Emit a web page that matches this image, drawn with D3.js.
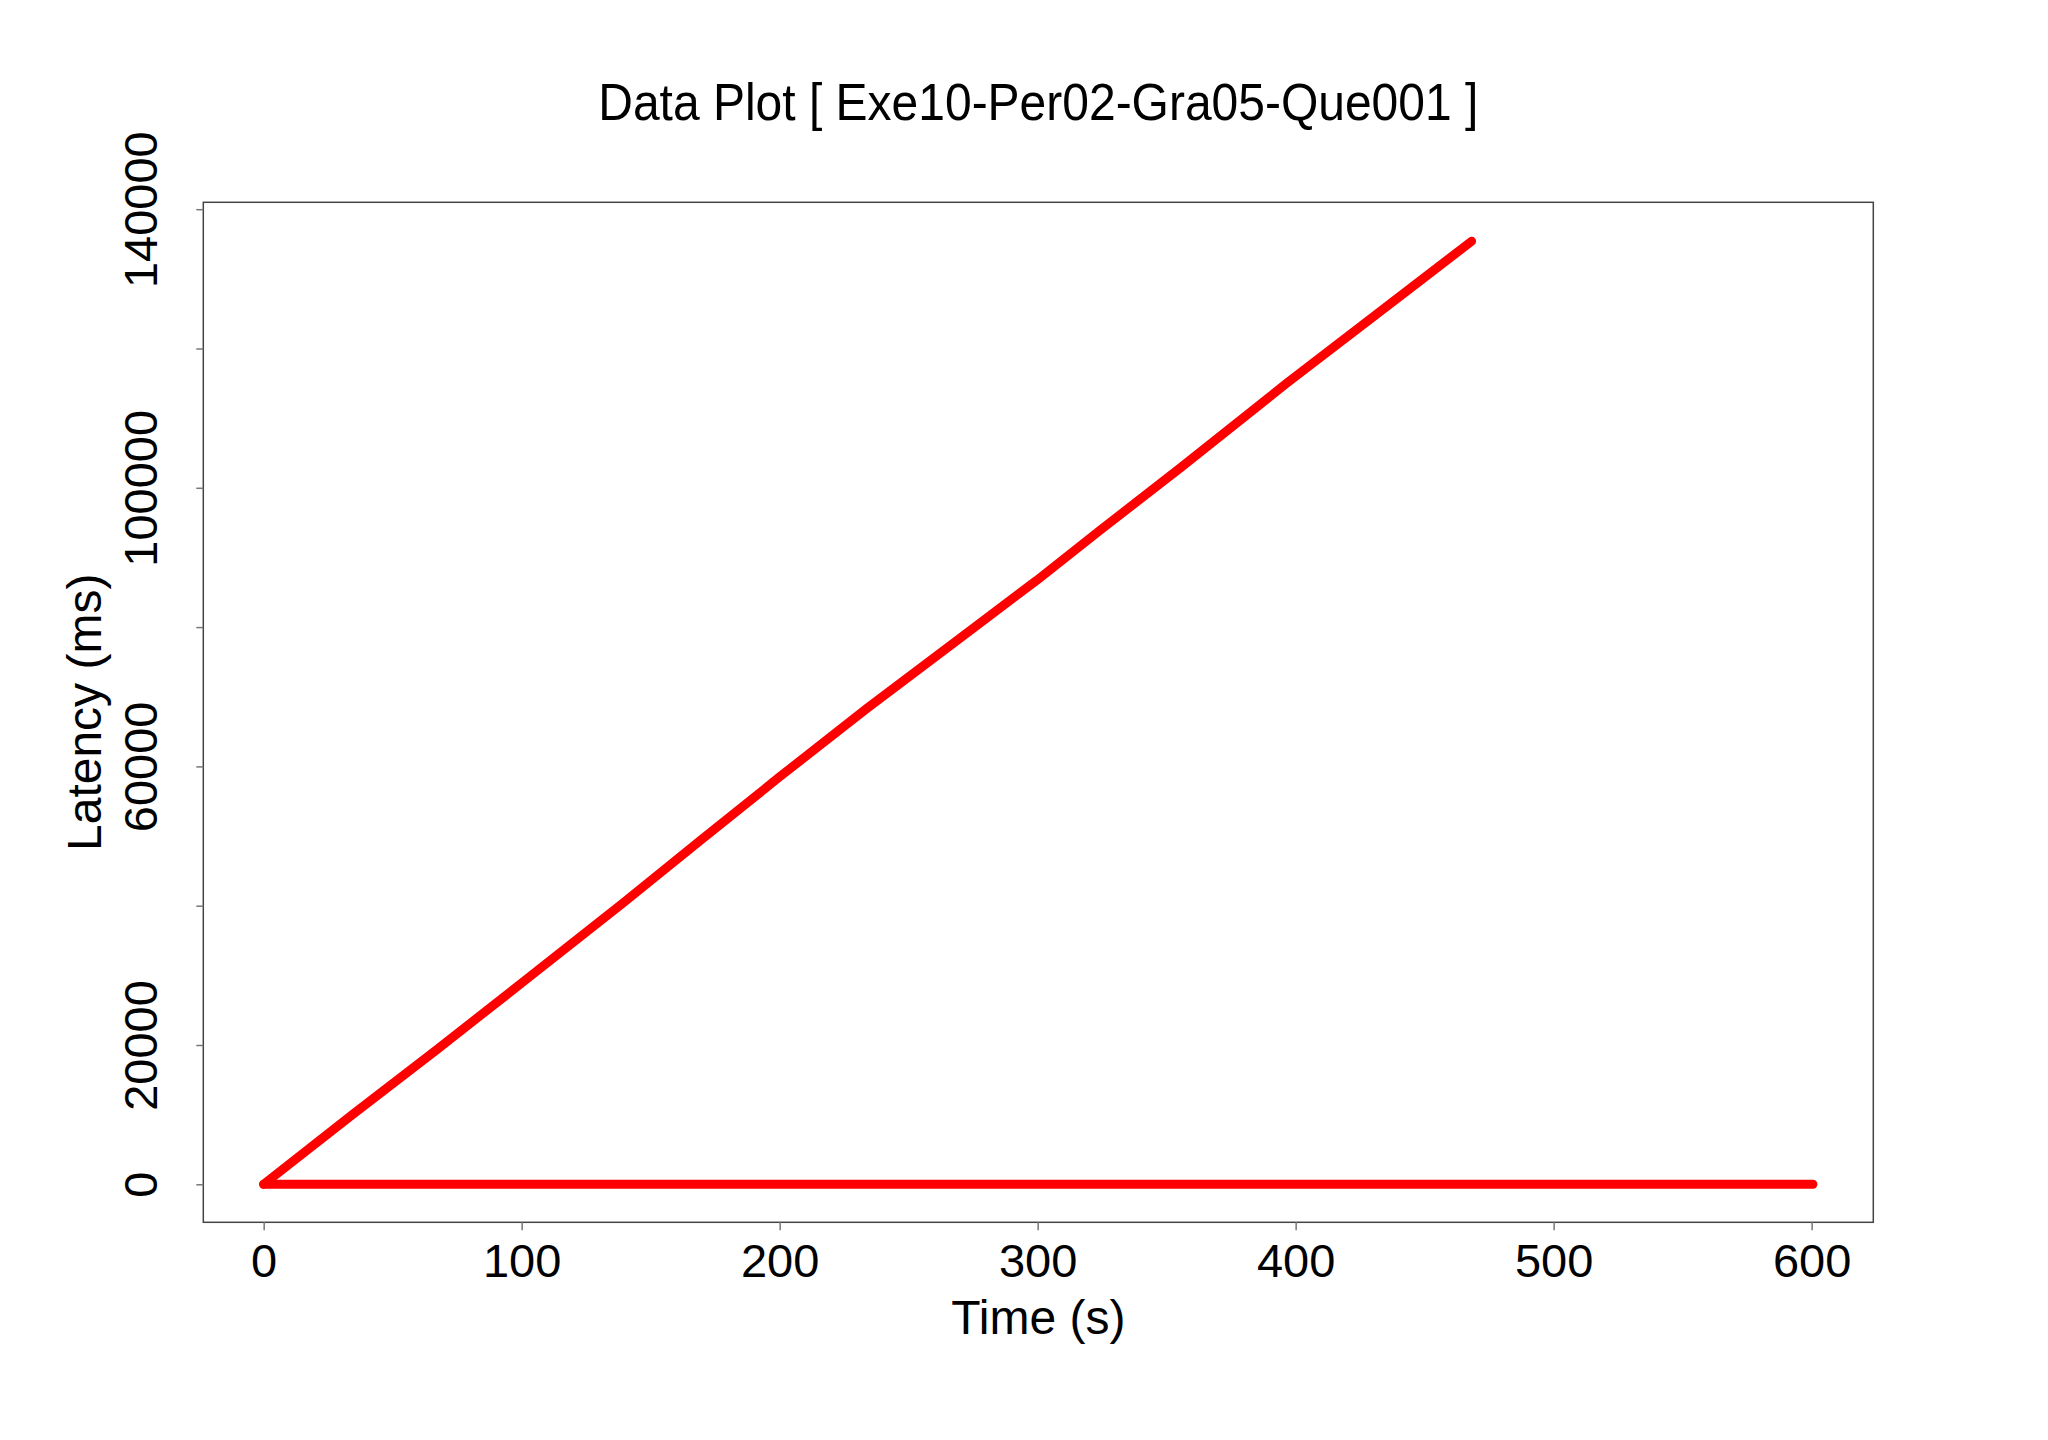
<!DOCTYPE html>
<html>
<head>
<meta charset="utf-8">
<script src="https://cdn.jsdelivr.net/npm/d3@7"></script>
<style>
  html, body { margin: 0; padding: 0; background: #fff; }
  svg { display: block; }
  text { font-family: "Liberation Sans", Arial, sans-serif; fill: #000; }
</style>
</head>
<body>
<svg id="chart" width="2048" height="1440"></svg>
<script>
// ---- data ----
const titleText = "Data Plot [ Exe10-Per02-Gra05-Que001 ]";
const xLabel = "Time (s)";
const yLabel = "Latency (ms)";
const riseTime = [0, 34.4, 67, 100, 139.3, 169, 200, 233.7, 272, 299.6, 324.2, 355.8, 396.5, 444.3, 468.2];
const riseLatency = [0, 10000, 19300, 28900, 40400, 49300, 58500, 68300, 79000, 86700, 93900, 103000, 115000, 128600, 135400];
const zeroTime = [0, 600.5];
const zeroLatency = [0, 0];
const xTicks = [0, 100, 200, 300, 400, 500, 600];
const yTicks = [0, 20000, 40000, 60000, 80000, 100000, 120000, 140000];
const yTickLabels = [0, 20000, 60000, 100000, 140000];

// ---- layout ----
const L = 203.3, R = 1873.3, T = 202.3, B = 1222.3;
const svg = d3.select("#chart");
const x = d3.scaleLinear().domain([-23.4, 623.9]).range([L, R]);
const y = d3.scaleLinear().domain([-5456, 140990]).range([B, T]);

// box
svg.append("rect")
  .attr("x", L).attr("y", T).attr("width", R - L).attr("height", B - T)
  .attr("fill", "none").attr("stroke", "#444").attr("stroke-width", 1.5);

// x axis
const xAxis = d3.axisBottom(x).tickValues(xTicks).tickSize(8).tickFormat(d3.format("d"));
const gx = svg.append("g").attr("transform", `translate(0,${B})`).call(xAxis);
gx.select(".domain").remove();
gx.selectAll(".tick line").attr("stroke", "#777").attr("stroke-width", 1.5);
gx.selectAll(".tick text").attr("font-size", 47).attr("dy", null).attr("y", 54.5)
  .style("font-family", "'Liberation Sans', Arial, sans-serif").attr("fill", "#000");

// y axis
const yAxis = d3.axisLeft(y).tickValues(yTicks).tickSize(7)
  .tickFormat(d => yTickLabels.includes(d) ? d3.format("d")(d) : "");
const gy = svg.append("g").attr("transform", `translate(${L},0)`).call(yAxis);
gy.select(".domain").remove();
gy.selectAll(".tick line").attr("stroke", "#777").attr("stroke-width", 1.5);
gy.selectAll(".tick text")
  .attr("x", null).attr("dy", null)
  .attr("text-anchor", "middle")
  .attr("transform", `translate(${157 - L},0) rotate(-90)`)
  .attr("font-size", 47)
  .style("font-family", "'Liberation Sans', Arial, sans-serif").attr("fill", "#000");

// lines
const line = d3.line().x(d => x(d[0])).y(d => y(d[1]));
const riseData = riseTime.map((t, i) => [t, riseLatency[i]]);
const zeroData = zeroTime.map((t, i) => [t, zeroLatency[i]]);
[zeroData, riseData].forEach(data => {
  svg.append("path").datum(data)
    .attr("d", line)
    .attr("fill", "none").attr("stroke", "#ff0000").attr("stroke-width", 9)
    .attr("stroke-linecap", "round").attr("stroke-linejoin", "round");
});

// title & labels
svg.append("text").attr("x", (L + R) / 2).attr("y", 120)
  .attr("text-anchor", "middle").attr("font-size", 52)
  .attr("textLength", 880).attr("lengthAdjust", "spacingAndGlyphs").text(titleText);
svg.append("text").attr("x", (L + R) / 2).attr("y", 1334)
  .attr("text-anchor", "middle").attr("font-size", 48).text(xLabel);
svg.append("text").attr("transform", `translate(101,${(T + B) / 2}) rotate(-90)`)
  .attr("text-anchor", "middle").attr("font-size", 48).text(yLabel);
</script>
</body>
</html>
